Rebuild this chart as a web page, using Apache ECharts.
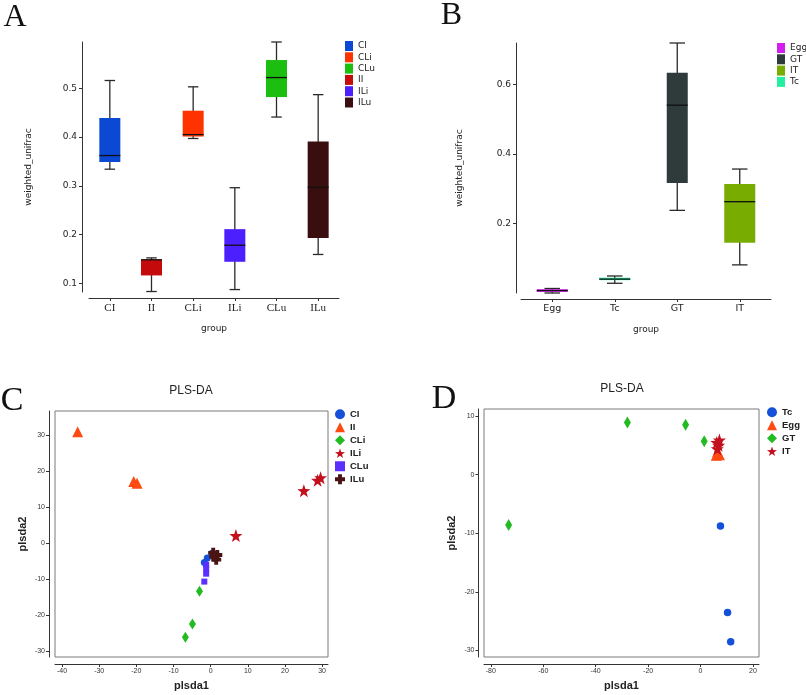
<!DOCTYPE html>
<html>
<head>
<meta charset="utf-8">
<script src="https://cdn.jsdelivr.net/npm/echarts@6/dist/echarts.min.js"></script>
<style>
  html, body { margin: 0; padding: 0; background: #fff; }
  #chart { width: 806px; height: 695px; }
</style>
</head>
<body>
<div id="chart"></div>
<script>
// A: weighted_unifrac by group (min, q1, median, q3, max)
const groupsA = ['CI', 'II', 'CLi', 'ILi', 'CLu', 'ILu'];
const boxA = [
  [0.334, 0.349, 0.362, 0.439, 0.516],
  [0.083, 0.116, 0.148, 0.149, 0.152],
  [0.397, 0.401, 0.405, 0.454, 0.503],
  [0.087, 0.144, 0.178, 0.211, 0.296],
  [0.441, 0.482, 0.522, 0.558, 0.595],
  [0.159, 0.193, 0.297, 0.391, 0.487]
];
const legendA = ['CI', 'CLi', 'CLu', 'II', 'ILi', 'ILu'];

// B
const groupsB = ['Egg', 'Tc', 'GT', 'IT'];
const boxB = [
  [0.000, 0.003, 0.007, 0.011, 0.013],
  [0.028, 0.037, 0.040, 0.044, 0.049],
  [0.238, 0.317, 0.541, 0.634, 0.720],
  [0.081, 0.145, 0.263, 0.314, 0.357]
];
const legendB = ['Egg', 'GT', 'IT', 'Tc'];

// C: PLS-DA scores [plsda1, plsda2]
const plsC_CI = [[-1.7, -5.4], [-0.9, -4.1], [0.4, -2.8]];
const plsC_II = [[-35.8, 31.0], [-20.7, 17.2], [-19.8, 16.7]];
const plsC_CLi = [[-3.0, -13.4], [-4.9, -22.5], [-6.8, -26.2]];
const plsC_ILi = [[6.8, 2.1], [25.1, 14.6], [28.8, 17.5], [29.6, 18.2]];
const plsC_CLu = [[-1.2, -6.0], [-1.2, -7.1], [-1.2, -8.5], [-1.7, -10.7]];
const plsC_ILu = [[0.7, -2.7], [1.8, -3.3], [1.5, -4.6], [1.0, -3.8]];

// D
const plsD_Tc = [[7.6, -8.75], [10.3, -23.5], [11.5, -28.5]];
const plsD_Egg = [[6.0, 3.3], [7.2, 3.4], [6.5, 3.9]];
const plsD_GT = [[-73.2, -8.6], [-27.9, 8.9], [-5.7, 8.5], [1.4, 5.7]];
const plsD_IT = [[6.2, 5.5], [6.9, 5.0], [6.4, 4.4], [7.2, 5.9]];

const colA = { CI: '#0b48d4', II: '#c40a0a', CLi: '#ff3300', ILi: '#4c1fff', CLu: '#1cbf10', ILu: '#3a0e0e' };
const colB = { Egg: '#d21ff0', Tc: '#22f0a0', GT: '#2f3b3a', IT: '#78ac00' };
const widthB = [31, 31, 21, 31];

const STAR = 'path://M0,-10L2.35,-3.24L9.51,-3.09L3.8,1.24L5.88,8.09L0,4L-5.88,8.09L-3.8,1.24L-9.51,-3.09L-2.35,-3.24Z';
const PLUS = 'path://M-3.5,-9H3.5V-3.5H9V3.5H3.5V9H-3.5V3.5H-9V-3.5H-3.5Z';

const sans = 'DejaVu Sans';
const arial = 'Liberation Sans';

function boxRender(boxW, capW) {
  return (params, api) => {
    const c = api.value(0);
    const p = k => api.coord([c, api.value(k)]);
    const lo = p(1), q1 = p(2), md = p(3), q3 = p(4), hi = p(5);
    const x = lo[0];
    const ws = { stroke: '#2a2a2a', lineWidth: 1.3 };
    return {
      type: 'group',
      children: [
        { type: 'line', shape: { x1: x, y1: hi[1], x2: x, y2: lo[1] }, style: ws },
        { type: 'line', shape: { x1: x - capW / 2, y1: hi[1], x2: x + capW / 2, y2: hi[1] }, style: ws },
        { type: 'line', shape: { x1: x - capW / 2, y1: lo[1], x2: x + capW / 2, y2: lo[1] }, style: ws },
        { type: 'rect', shape: { x: x - boxW / 2, y: q3[1], width: boxW, height: Math.max(q1[1] - q3[1], 1) },
          style: { fill: api.visual('color') } },
        { type: 'line', shape: { x1: x - boxW / 2, y1: md[1], x2: x + boxW / 2, y2: md[1] },
          style: { stroke: '#111', lineWidth: 1.3 } }
      ]
    };
  };
}

const flatA = boxA.flat(), flatB = boxB.flat();

const series = [];
groupsA.forEach((g, i) => series.push({
  type: 'custom', name: g, xAxisIndex: 0, yAxisIndex: 0,
  itemStyle: { color: colA[g] },
  encode: { x: 0, y: [1, 2, 3, 4, 5] },
  renderItem: boxRender(21, 10.5),
  data: [[g].concat(boxA[i])]
}));
groupsB.forEach((g, i) => series.push({
  type: 'custom', name: g, xAxisIndex: 1, yAxisIndex: 1,
  itemStyle: { color: colB[g] },
  encode: { x: 0, y: [1, 2, 3, 4, 5] },
  renderItem: boxRender(widthB[i], 15.5),
  data: [[g].concat(boxB[i])]
}));

const scatC = [
  { name: 'CI', data: plsC_CI, symbol: 'circle', size: 7, color: '#1450d8' },
  { name: 'II', data: plsC_II, symbol: 'triangle', size: 11, color: '#ff4a12' },
  { name: 'CLi', data: plsC_CLi, symbol: 'diamond', size: [7, 11], color: '#22bb22' },
  { name: 'ILi', data: plsC_ILi, symbol: STAR, size: 13, color: '#c3101f' },
  { name: 'CLu', data: plsC_CLu, symbol: 'rect', size: 6, color: '#5a2fff' },
  { name: 'ILu', data: plsC_ILu, symbol: PLUS, size: 10, color: '#4a1414' }
];
const scatD = [
  { name: 'Tc', data: plsD_Tc, symbol: 'circle', size: 7.5, color: '#1450d8' },
  { name: 'Egg', data: plsD_Egg, symbol: 'triangle', size: 11, color: '#ff4a12' },
  { name: 'GT', data: plsD_GT, symbol: 'diamond', size: [7, 12], color: '#22bb22' },
  { name: 'IT', data: plsD_IT, symbol: STAR, size: 13, color: '#c3101f' }
];
scatC.forEach(s => series.push({
  type: 'scatter', name: s.name, xAxisIndex: 2, yAxisIndex: 2,
  symbol: s.symbol, symbolSize: s.size, itemStyle: { color: s.color, opacity: 1 }, data: s.data
}));
scatD.forEach(s => series.push({
  type: 'scatter', name: s.name, xAxisIndex: 3, yAxisIndex: 3,
  symbol: s.symbol, symbolSize: s.size, itemStyle: { color: s.color, opacity: 1 }, data: s.data
}));

const axLine = { show: true, onZero: false, lineStyle: { color: '#333', width: 1 } };
const axTick = { show: true, length: 3, lineStyle: { color: '#333', width: 1 } };

function boxY(grid, mn, mx, off, gap, step) {
  const ax = {
    gridIndex: grid, type: 'value', min: mn, max: mx, offset: off,
    axisLine: axLine, axisTick: axTick, splitLine: { show: false },
    axisLabel: { fontFamily: sans, fontSize: 9, color: '#222', margin: 5, showMinLabel: false, showMaxLabel: false },
    name: 'weighted_unifrac', nameLocation: 'middle', nameGap: gap,
    nameTextStyle: { fontFamily: sans, fontSize: 9, color: '#222' }
  };
  if (step) ax.interval = step;
  return ax;
}
function boxX(grid, cats, font, size) {
  return {
    gridIndex: grid, type: 'category', data: cats, offset: 6,
    axisLine: axLine, axisTick: Object.assign({ alignWithLabel: true }, axTick),
    axisLabel: { fontFamily: font, fontSize: size, color: '#222', margin: 5 },
    name: 'group', nameLocation: 'middle', nameGap: 26,
    nameTextStyle: { fontFamily: sans, fontSize: 9, color: '#222' }
  };
}
function plsAxis(grid, mn, mx, split, off, name, gap) {
  return {
    gridIndex: grid, type: 'value', min: mn, max: mx, splitNumber: split, offset: off,
    axisLine: axLine, axisTick: axTick, splitLine: { show: false },
    axisLabel: { fontFamily: arial, fontSize: 7, color: '#333', margin: 4, showMinLabel: false, showMaxLabel: false },
    name: name, nameLocation: 'middle', nameGap: gap,
    nameTextStyle: { fontFamily: arial, fontSize: 11, fontWeight: 'bold', color: '#222' }
  };
}

function boxLegend(names, cols, left, top) {
  return {
    orient: 'vertical', left: left, top: top, padding: 0, itemGap: 1.3,
    itemWidth: 8, itemHeight: 10,
    textStyle: { fontFamily: sans, fontSize: 9, color: '#222', lineHeight: 10 },
    data: names.map(n => ({ name: n, icon: 'rect', itemStyle: { color: cols[n] } }))
  };
}
function plsLegend(list, left, top) {
  return {
    orient: 'vertical', left: left, top: top, padding: 0, itemGap: 2.5,
    itemWidth: 10, itemHeight: 10,
    textStyle: { fontFamily: arial, fontSize: 9.5, fontWeight: 'bold', color: '#222', lineHeight: 10.5 },
    data: list.map(s => ({ name: s.name, icon: s.symbol, itemStyle: { color: s.color } }))
  };
}

const letter = (t, x, y, size) => ({
  type: 'text', x: x, y: y,
  style: { text: t, fontFamily: 'Liberation Serif', fontSize: size, fill: '#111', textAlign: 'center', textVerticalAlign: 'middle' }
});
const plsTitle = (x, y) => ({
  type: 'text', x: x, y: y,
  style: { text: 'PLS-DA', fontFamily: arial, fontSize: 12, fill: '#222', textAlign: 'center', textVerticalAlign: 'middle' }
});

const option = {
  animation: false,
  backgroundColor: '#fff',
  grid: [
    { left: 89, top: 42, width: 250, height: 250 },
    { left: 521, top: 43, width: 250, height: 250 },
    { left: 55, top: 411, width: 273, height: 246, show: true, borderColor: '#7a7a7a', borderWidth: 1 },
    { left: 484, top: 409, width: 275, height: 248, show: true, borderColor: '#7a7a7a', borderWidth: 1 }
  ],
  xAxis: [
    boxX(0, groupsA, 'Liberation Serif', 11),
    boxX(1, groupsB, sans, 9.5),
    plsAxis(2, -41.9, 31.6, 7, 7, 'plsda1', 16),
    plsAxis(3, -82.6, 22.3, 5, 7, 'plsda1', 16)
  ],
  yAxis: [
    boxY(0, Math.min(...flatA) - 0.001, Math.max(...flatA), 7, 49),
    boxY(1, Math.min(...flatB), Math.max(...flatB), 5, 52, 0.2),
    plsAxis(2, -31.7, 36.8, 7, 6, 'plsda2', 21),
    plsAxis(3, -31.1, 11.2, 4, 5.5, 'plsda2', 21)
  ],
  legend: [
    boxLegend(legendA, colA, 345, 41),
    boxLegend(legendB, colB, 777, 43),
    plsLegend(scatC, 335, 409),
    plsLegend(scatD, 767, 407)
  ],
  graphic: [
    letter('A', 15, 18, 32),
    letter('B', 451.5, 16, 32),
    letter('C', 12, 401, 34),
    letter('D', 444, 399, 34),
    plsTitle(191, 391),
    plsTitle(622, 389)
  ],
  series: series
};

const chart = echarts.init(document.getElementById('chart'), null, { renderer: 'canvas' });
chart.setOption(option);
</script>
</body>
</html>
